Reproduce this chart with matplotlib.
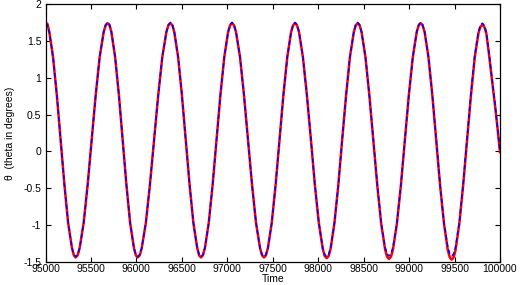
import matplotlib
matplotlib.use("Agg")
import matplotlib.pyplot as plt
from matplotlib.ticker import MultipleLocator, FormatStrFormatter

plt.rcParams['font.family'] = ['Liberation Sans', 'DejaVu Sans']
plt.rcParams['axes.unicode_minus'] = False

time = [
    95000, 95021, 95042, 95083, 95125, 95166, 95208, 95249, 95291, 95312, 95332,
    95354, 95376, 95420, 95464, 95508, 95552, 95596, 95640, 95662, 95684,
    95705, 95725, 95766, 95808, 95849, 95890, 95931, 95973, 95994, 96014,
    96037, 96059, 96104, 96149, 96195, 96240, 96285, 96330, 96352, 96375,
    96396, 96417, 96459, 96501, 96543, 96585, 96627, 96669, 96690, 96711,
    96732, 96754, 96796, 96839, 96882, 96924, 96967, 97009, 97031, 97052,
    97074, 97096, 97140, 97184, 97228, 97272, 97316, 97360, 97382, 97404,
    97425, 97447, 97489, 97532, 97575, 97617, 97660, 97702, 97724, 97745,
    97767, 97789, 97832, 97876, 97920, 97963, 98007, 98050, 98072, 98094,
    98115, 98137, 98179, 98222, 98264, 98307, 98349, 98392, 98413, 98434,
    98456, 98477, 98520, 98563, 98607, 98650, 98693, 98736, 98758, 98779,
    98801, 98823, 98866, 98910, 98954, 98997, 99041, 99084, 99106, 99128,
    99149, 99171, 99213, 99256, 99299, 99341, 99384, 99426, 99448, 99469,
    99490, 99511, 99553, 99595, 99638, 99680, 99722, 99764, 99785, 99806,
    99828, 99850, 99880, 99909, 99945, 99975, 100000,
]

theta_red = [
    1.75, 1.73, 1.62, 1.28, 0.76, 0.16, -0.45, -0.97, -1.31, -1.41, -1.44,
    -1.41, -1.31, -0.97, -0.45, 0.16, 0.76, 1.28, 1.62, 1.71, 1.74,
    1.71, 1.62, 1.28, 0.76, 0.16, -0.45, -0.97, -1.31, -1.41, -1.44,
    -1.41, -1.31, -0.97, -0.45, 0.16, 0.76, 1.28, 1.62, 1.71, 1.74,
    1.71, 1.62, 1.28, 0.76, 0.16, -0.45, -0.97, -1.31, -1.41, -1.44,
    -1.41, -1.31, -0.97, -0.45, 0.16, 0.76, 1.28, 1.62, 1.71, 1.74,
    1.71, 1.62, 1.28, 0.76, 0.16, -0.45, -0.97, -1.31, -1.41, -1.44,
    -1.41, -1.31, -0.97, -0.45, 0.16, 0.76, 1.28, 1.62, 1.71, 1.74,
    1.71, 1.62, 1.28, 0.76, 0.16, -0.45, -0.97, -1.32, -1.42, -1.45,
    -1.42, -1.32, -0.97, -0.45, 0.16, 0.76, 1.28, 1.62, 1.71, 1.74,
    1.71, 1.62, 1.28, 0.76, 0.15, -0.46, -0.98, -1.33, -1.43, -1.46,
    -1.43, -1.33, -0.98, -0.46, 0.15, 0.76, 1.28, 1.62, 1.71, 1.74,
    1.71, 1.62, 1.28, 0.76, 0.15, -0.46, -0.98, -1.34, -1.44, -1.47,
    -1.44, -1.34, -0.98, -0.46, 0.15, 0.75, 1.27, 1.61, 1.69, 1.72,
    1.69, 1.60, 1.31, 1.00, 0.63, 0.29, -0.01,
]

theta_blue = [
    1.70, 1.72, 1.62, 1.28, 0.76, 0.16, -0.45, -0.97, -1.31, -1.40, -1.43,
    -1.40, -1.31, -0.97, -0.45, 0.16, 0.76, 1.28, 1.62, 1.72, 1.75,
    1.72, 1.62, 1.28, 0.76, 0.16, -0.45, -0.97, -1.31, -1.40, -1.43,
    -1.40, -1.31, -0.97, -0.45, 0.16, 0.76, 1.28, 1.62, 1.72, 1.75,
    1.72, 1.62, 1.28, 0.76, 0.16, -0.45, -0.97, -1.31, -1.40, -1.43,
    -1.40, -1.31, -0.97, -0.45, 0.16, 0.76, 1.28, 1.62, 1.72, 1.75,
    1.72, 1.62, 1.28, 0.76, 0.16, -0.45, -0.97, -1.31, -1.40, -1.43,
    -1.40, -1.31, -0.97, -0.45, 0.16, 0.76, 1.28, 1.62, 1.72, 1.75,
    1.72, 1.62, 1.28, 0.76, 0.16, -0.45, -0.97, -1.31, -1.40, -1.43,
    -1.40, -1.31, -0.97, -0.45, 0.16, 0.76, 1.28, 1.62, 1.72, 1.75,
    1.72, 1.62, 1.28, 0.76, 0.16, -0.45, -0.97, -1.30, -1.39, -1.42,
    -1.39, -1.30, -0.97, -0.45, 0.16, 0.76, 1.28, 1.62, 1.72, 1.75,
    1.72, 1.62, 1.28, 0.76, 0.16, -0.45, -0.97, -1.30, -1.39, -1.42,
    -1.39, -1.30, -0.96, -0.44, 0.17, 0.78, 1.30, 1.63, 1.71, 1.74,
    1.71, 1.62, 1.33, 1.02, 0.65, 0.30, 0.00,
]

fig = plt.figure(figsize=(5.2, 2.85), dpi=100)
ax = fig.add_axes([0.0875, 0.081, 0.874, 0.905])

ax.plot(time, theta_red, color='#ff0000', lw=1.8, solid_joinstyle='round')
ax.plot(time, theta_blue, color='#0000ff', lw=1.1, dashes=(3, 1.8))

ax.set_xlim(95000, 100000)
ax.set_ylim(-1.5, 2)
ax.xaxis.set_major_locator(MultipleLocator(500))
ax.yaxis.set_major_locator(MultipleLocator(0.5))
ax.yaxis.set_major_formatter(FormatStrFormatter('%g'))
ax.xaxis.set_major_formatter(FormatStrFormatter('%d'))

ax.tick_params(direction='in', top=True, right=True, length=3.5, width=0.8,
               labelsize=7.5)
ax.tick_params(axis='x', pad=1.5)
ax.tick_params(axis='y', pad=3)
for s in ax.spines.values():
    s.set_linewidth(0.9)

ax.set_xlabel('Time', fontsize=7.5, labelpad=0)
ax.set_ylabel('θ  (theta in degrees)', fontsize=7.5, labelpad=6)

fig.savefig('out.png', dpi=100)
